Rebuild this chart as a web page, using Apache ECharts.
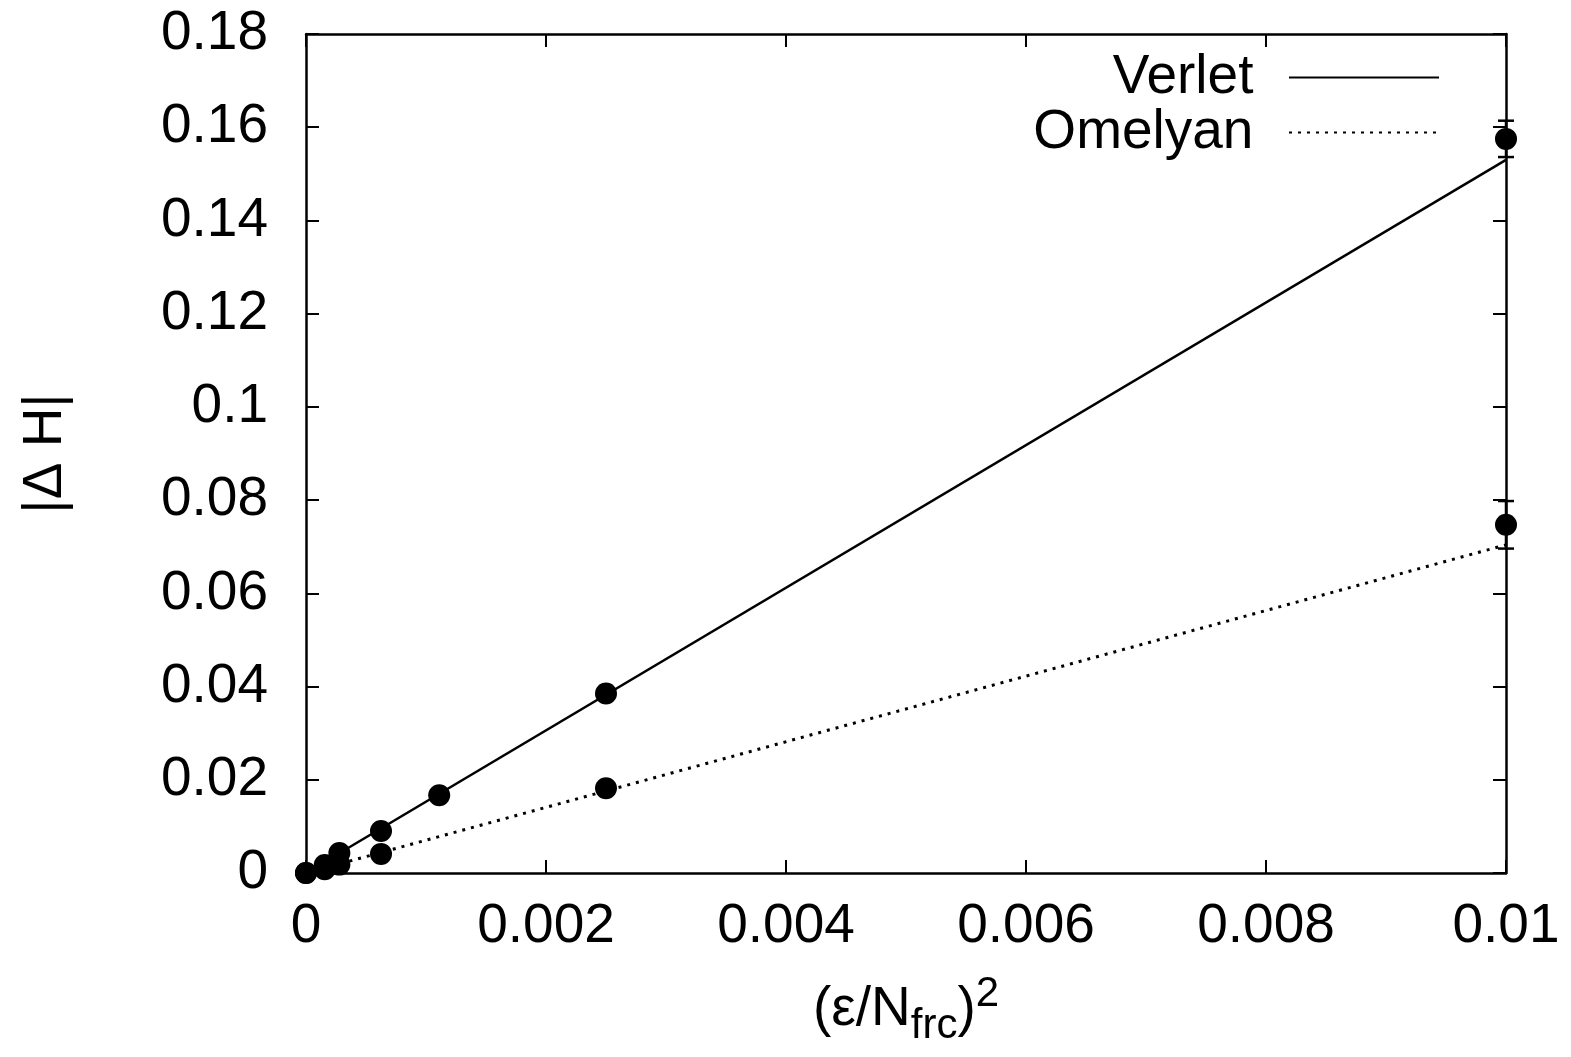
<!DOCTYPE html>
<html>
<head>
<meta charset="utf-8">
<script src="https://cdn.jsdelivr.net/npm/echarts@6/dist/echarts.min.js"></script>
<style>
  html, body { margin: 0; padding: 0; background: #fff; }
  #chart { width: 1571px; height: 1057px; }
</style>
</head>
<body>
<div id="chart"></div>
<script>
// x values: (eps/N_frc)^2
var xValues = [0, 0.000156, 0.000278, 0.000625, 0.00111, 0.0025, 0.01];
// |dH| measured points
var verletPts = [0, 0.0017, 0.0043, 0.0090, 0.0167, 0.0385, 0.1575];
var verletErr = [0, 0, 0, 0, 0, 0, 0.0039];
var omelyanX = [0, 0.000156, 0.000278, 0.000625, 0.0025, 0.01];
var omelyanPts = [0, 0.0008, 0.0018, 0.0041, 0.0182, 0.0747];
var omelyanErr = [0, 0, 0, 0, 0, 0.0051];
// linear fits
var fitX = [0, 0.01];
var verletFit = [0, 0.153];
var omelyanFit = [0, 0.0704];

var font = "'Liberation Sans', Arial, sans-serif";

function pairs(xs, ys) {
  return xs.map(function (x, i) { return [x, ys[i]]; });
}
function errData(xs, ys, es) {
  var out = [];
  xs.forEach(function (x, i) {
    if (es[i] > 0) out.push([x, ys[i] - es[i], ys[i] + es[i]]);
  });
  return out;
}
function errRender(params, api) {
  var lo = api.coord([api.value(0), api.value(1)]);
  var hi = api.coord([api.value(0), api.value(2)]);
  var w = 8;
  var st = { stroke: '#000', lineWidth: 2.5 };
  return {
    type: 'group',
    children: [
      { type: 'line', shape: { x1: lo[0], y1: lo[1], x2: hi[0], y2: hi[1] }, style: st },
      { type: 'line', shape: { x1: lo[0] - w, y1: lo[1], x2: lo[0] + w, y2: lo[1] }, style: st },
      { type: 'line', shape: { x1: hi[0] - w, y1: hi[1], x2: hi[0] + w, y2: hi[1] }, style: st }
    ]
  };
}

var axisLine = { show: true, onZero: false, lineStyle: { color: '#000', width: 2.5 } };
var tickIn = { show: true, inside: true, length: 13, lineStyle: { color: '#000', width: 2 } };

var option = {
  backgroundColor: '#fff',
  animation: false,
  grid: { left: 306, right: 65, top: 34, bottom: 184 },
  legend: {
    data: ['Verlet', 'Omelyan'],
    orient: 'vertical',
    align: 'right',
    right: 131,
    top: 50,
    padding: 0,
    itemGap: 0,
    itemWidth: 150,
    itemHeight: 20,
    selectedMode: false,
    itemStyle: { color: 'rgba(0,0,0,0)', borderWidth: 0, opacity: 0 },
    formatter: function (name) { return name + '  '; },
    textStyle: { fontSize: 55, fontFamily: font, color: '#000', lineHeight: 55 }
  },
  xAxis: [
    {
      type: 'value', min: 0, max: 0.01, interval: 0.002,
      axisLine: axisLine, axisTick: tickIn, splitLine: { show: false },
      axisLabel: {
        margin: 26, fontSize: 55, fontFamily: font, color: '#000',
        formatter: function (v) { return String(+v.toFixed(4)); }
      },
      name: '(ε/N{sub|frc}){sup|2}',
      nameLocation: 'middle',
      nameGap: 100,
      nameTextStyle: {
        fontSize: 55, fontFamily: font, color: '#000',
        rich: {
          sub: { fontSize: 42, fontFamily: font, color: '#000', verticalAlign: 'top', padding: [32, 0, 0, 0] },
          sup: { fontSize: 42, fontFamily: font, color: '#000', verticalAlign: 'top', padding: [0, 0, 0, 0] }
        }
      }
    },
    {
      type: 'value', min: 0, max: 0.01, interval: 0.002, position: 'top',
      axisLine: axisLine, axisTick: tickIn, splitLine: { show: false }, axisLabel: { show: false }
    }
  ],
  yAxis: [
    {
      type: 'value', min: 0, max: 0.18, interval: 0.02,
      axisLine: axisLine, axisTick: tickIn, splitLine: { show: false },
      axisLabel: {
        margin: 38, fontSize: 55, fontFamily: font, color: '#000',
        formatter: function (v) { return String(+v.toFixed(3)); }
      },
      name: '|Δ H|',
      nameLocation: 'middle',
      nameGap: 233,
      nameRotate: 90,
      nameTextStyle: { fontSize: 55, fontFamily: font, color: '#000' }
    },
    {
      type: 'value', min: 0, max: 0.18, interval: 0.02, position: 'right',
      axisLine: axisLine, axisTick: tickIn, splitLine: { show: false }, axisLabel: { show: false }
    }
  ],
  series: [
    {
      name: 'Verlet', type: 'line', symbol: 'none', silent: true,
      data: pairs(fitX, verletFit),
      itemStyle: { color: '#000' },
      lineStyle: { color: '#000', width: 2.5, type: 'solid' }
    },
    {
      name: 'Omelyan', type: 'line', symbol: 'none', silent: true,
      data: pairs(fitX, omelyanFit),
      itemStyle: { color: '#000' },
      lineStyle: { color: '#000', width: 3, type: [3, 6] }
    },
    {
      type: 'custom', renderItem: errRender, silent: true, z: 3,
      data: errData(xValues, verletPts, verletErr)
    },
    {
      type: 'custom', renderItem: errRender, silent: true, z: 3,
      data: errData(omelyanX, omelyanPts, omelyanErr)
    },
    {
      type: 'scatter', symbol: 'circle', symbolSize: 22, z: 4,
      itemStyle: { color: '#000', opacity: 1 },
      data: pairs(xValues, verletPts)
    },
    {
      type: 'scatter', symbol: 'circle', symbolSize: 22, z: 4,
      itemStyle: { color: '#000', opacity: 1 },
      data: pairs(omelyanX, omelyanPts)
    }
  ]
};

var myChart = echarts.init(document.getElementById('chart'));
myChart.setOption(option);
</script>
</body>
</html>
